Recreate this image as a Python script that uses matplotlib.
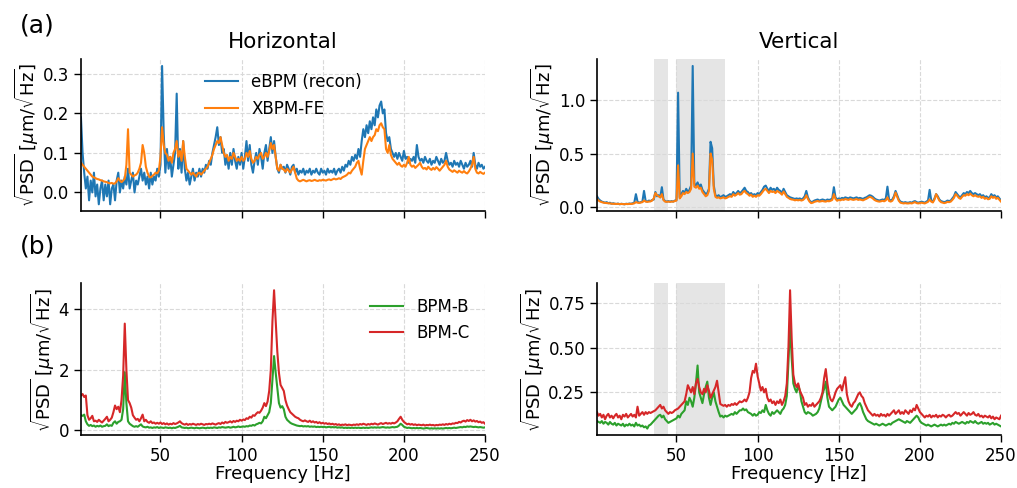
import numpy as np
import matplotlib
matplotlib.use("Agg")
import matplotlib.pyplot as plt

# frequency bins [Hz]
freq = np.arange(1, 251)

# (a) Horizontal: eBPM (recon) and XBPM-FE
h_ebpm = [
    0.19, 0.10, 0.05, 0.01, 0.04, -0.02, 0.03, 0.00, 0.05, -0.01,
    0.02, -0.03, 0.01, 0.03, -0.02, 0.02, -0.01, 0.03, -0.03, 0.01,
    0.02, -0.02, 0.03, 0.05, 0.00, 0.03, 0.01, 0.04, 0.02, 0.06,
    0.01, 0.03, 0.05, 0.00, 0.03, 0.02, 0.04, 0.06, 0.03, 0.05,
    0.02, 0.04, 0.01, 0.05, 0.02, 0.04, 0.03, 0.06, 0.04, 0.07,
    0.32, 0.15, 0.05, 0.11, 0.06, 0.09, 0.04, 0.07, 0.10, 0.25,
    0.06, 0.11, 0.05, 0.13, 0.06, 0.03, 0.05, 0.02, 0.04, 0.06,
    0.03, 0.05, 0.04, 0.06, 0.04, 0.06, 0.05, 0.07, 0.06, 0.08,
    0.07, 0.10, 0.12, 0.14, 0.165, 0.12, 0.14, 0.10, 0.11, 0.07,
    0.09, 0.06, 0.10, 0.07, 0.11, 0.08, 0.06, 0.09, 0.07, 0.10,
    0.06, 0.09, 0.13, 0.08, 0.12, 0.07, 0.05, 0.08, 0.10, 0.07,
    0.11, 0.09, 0.06, 0.10, 0.12, 0.08, 0.11, 0.14, 0.10, 0.13,
    0.09, 0.06, 0.05, 0.07, 0.06, 0.065, 0.05, 0.07, 0.06, 0.045,
    0.065, 0.07, 0.05, 0.06, 0.045, 0.055, 0.05, 0.06, 0.045, 0.055,
    0.05, 0.06, 0.045, 0.055, 0.05, 0.06, 0.05, 0.045, 0.06, 0.05,
    0.055, 0.045, 0.06, 0.05, 0.055, 0.05, 0.06, 0.045, 0.055, 0.06,
    0.05, 0.065, 0.055, 0.07, 0.065, 0.08, 0.07, 0.09, 0.08, 0.095,
    0.085, 0.11, 0.09, 0.13, 0.16, 0.14, 0.17, 0.15, 0.18, 0.16,
    0.19, 0.17, 0.21, 0.19, 0.22, 0.23, 0.20, 0.21, 0.15, 0.13,
    0.14, 0.11, 0.10, 0.09, 0.10, 0.085, 0.10, 0.09, 0.08, 0.105,
    0.085, 0.09, 0.075, 0.085, 0.08, 0.09, 0.075, 0.12, 0.09, 0.08,
    0.085, 0.075, 0.09, 0.08, 0.075, 0.085, 0.07, 0.08, 0.075, 0.09,
    0.08, 0.07, 0.085, 0.075, 0.08, 0.10, 0.08, 0.07, 0.075, 0.065,
    0.08, 0.07, 0.075, 0.065, 0.08, 0.07, 0.06, 0.075, 0.065, 0.07,
    0.08, 0.065, 0.10, 0.07, 0.06, 0.075, 0.065, 0.07, 0.06, 0.065,
]
h_xbpm = [
    0.075, 0.07, 0.065, 0.06, 0.055, 0.05, 0.045, 0.04, 0.038, 0.036,
    0.034, 0.033, 0.031, 0.03, 0.028, 0.027, 0.026, 0.024, 0.023, 0.024,
    0.022, 0.023, 0.028, 0.036, 0.03, 0.026, 0.03, 0.035, 0.07, 0.16,
    0.05, 0.045, 0.04, 0.043, 0.045, 0.05, 0.06, 0.075, 0.12, 0.10,
    0.065, 0.05, 0.04, 0.038, 0.042, 0.045, 0.05, 0.048, 0.055, 0.09,
    0.165, 0.12, 0.10, 0.095, 0.08, 0.09, 0.075, 0.10, 0.11, 0.13,
    0.09, 0.105, 0.08, 0.13, 0.09, 0.06, 0.055, 0.05, 0.045, 0.05,
    0.045, 0.04, 0.048, 0.05, 0.045, 0.05, 0.055, 0.06, 0.065, 0.075,
    0.085, 0.095, 0.11, 0.12, 0.13, 0.125, 0.14, 0.12, 0.10, 0.09,
    0.095, 0.08, 0.09, 0.085, 0.10, 0.09, 0.08, 0.085, 0.08, 0.09,
    0.08, 0.085, 0.10, 0.09, 0.105, 0.085, 0.075, 0.08, 0.09, 0.085,
    0.095, 0.10, 0.085, 0.09, 0.10, 0.09, 0.105, 0.125, 0.11, 0.12,
    0.09, 0.06, 0.055, 0.07, 0.06, 0.058, 0.052, 0.06, 0.055, 0.05,
    0.058, 0.065, 0.05, 0.035, 0.03, 0.028, 0.03, 0.032, 0.03, 0.028,
    0.03, 0.031, 0.029, 0.03, 0.032, 0.03, 0.029, 0.031, 0.03, 0.032,
    0.031, 0.03, 0.032, 0.033, 0.031, 0.033, 0.035, 0.033, 0.034, 0.036,
    0.034, 0.038, 0.04, 0.042, 0.045, 0.05, 0.048, 0.055, 0.06, 0.065,
    0.075, 0.08, 0.06, 0.045, 0.08, 0.11, 0.12, 0.13, 0.14, 0.13,
    0.14, 0.145, 0.16, 0.155, 0.17, 0.175, 0.165, 0.16, 0.11, 0.10,
    0.12, 0.095, 0.085, 0.08, 0.075, 0.07, 0.075, 0.068, 0.065, 0.07,
    0.065, 0.075, 0.09, 0.07, 0.065, 0.068, 0.062, 0.066, 0.07, 0.075,
    0.065, 0.06, 0.062, 0.058, 0.065, 0.06, 0.057, 0.062, 0.058, 0.064,
    0.06, 0.055, 0.06, 0.065, 0.07, 0.08, 0.065, 0.058, 0.055, 0.052,
    0.056, 0.053, 0.05, 0.055, 0.052, 0.05, 0.054, 0.05, 0.048, 0.053,
    0.06, 0.07, 0.09, 0.06, 0.05, 0.048, 0.052, 0.049, 0.047, 0.05,
]

# (a) Vertical: eBPM (recon) and XBPM-FE
v_ebpm = [
    0.10, 0.075, 0.06, 0.05, 0.045, 0.04, 0.045, 0.035, 0.04, 0.03,
    0.035, 0.03, 0.028, 0.032, 0.025, 0.03, 0.028, 0.025, 0.03, 0.028,
    0.032, 0.03, 0.035, 0.04, 0.12, 0.05, 0.04, 0.045, 0.05, 0.15,
    0.055, 0.05, 0.06, 0.055, 0.065, 0.07, 0.14, 0.10, 0.11, 0.09,
    0.185, 0.07, 0.055, 0.05, 0.055, 0.05, 0.055, 0.05, 0.06, 0.065,
    1.07, 0.09, 0.12, 0.15, 0.13, 0.17, 0.14, 0.16, 0.20, 1.32,
    0.22, 0.20, 0.23, 0.19, 0.21, 0.16, 0.14, 0.12, 0.13, 0.17,
    0.61, 0.55, 0.20, 0.11, 0.10, 0.11, 0.09, 0.10, 0.11, 0.095,
    0.10, 0.11, 0.12, 0.11, 0.14, 0.12, 0.13, 0.15, 0.13, 0.14,
    0.16, 0.18, 0.15, 0.14, 0.12, 0.13, 0.11, 0.12, 0.11, 0.13,
    0.12, 0.14, 0.16, 0.19, 0.20, 0.17, 0.15, 0.18, 0.16, 0.17,
    0.15, 0.18, 0.16, 0.15, 0.13, 0.17, 0.14, 0.11, 0.10, 0.09,
    0.085, 0.08, 0.075, 0.08, 0.075, 0.08, 0.07, 0.08, 0.10, 0.15,
    0.09, 0.06, 0.045, 0.05, 0.06, 0.065, 0.07, 0.06, 0.065, 0.07,
    0.065, 0.06, 0.07, 0.065, 0.07, 0.08, 0.185, 0.09, 0.07, 0.08,
    0.075, 0.085, 0.08, 0.09, 0.085, 0.08, 0.09, 0.085, 0.08, 0.085,
    0.09, 0.08, 0.085, 0.08, 0.075, 0.085, 0.09, 0.10, 0.11, 0.105,
    0.095, 0.08, 0.07, 0.065, 0.06, 0.065, 0.07, 0.065, 0.08, 0.19,
    0.07, 0.06, 0.07, 0.10, 0.15, 0.11, 0.07, 0.05, 0.045, 0.04,
    0.045, 0.04, 0.04, 0.045, 0.04, 0.05, 0.055, 0.045, 0.04, 0.045,
    0.05, 0.045, 0.04, 0.05, 0.06, 0.16, 0.06, 0.05, 0.08, 0.12,
    0.10, 0.07, 0.055, 0.05, 0.045, 0.05, 0.06, 0.055, 0.06, 0.08,
    0.10, 0.14, 0.12, 0.10, 0.09, 0.11, 0.13, 0.12, 0.14, 0.13,
    0.15, 0.13, 0.12, 0.13, 0.12, 0.11, 0.12, 0.10, 0.11, 0.09,
    0.10, 0.085, 0.09, 0.12, 0.10, 0.11, 0.09, 0.10, 0.08, 0.06,
]
v_xbpm = [
    0.075, 0.060, 0.050, 0.045, 0.040, 0.038, 0.036, 0.033, 0.032, 0.030,
    0.029, 0.030, 0.028, 0.029, 0.027, 0.028, 0.027, 0.026, 0.028, 0.027,
    0.029, 0.028, 0.030, 0.034, 0.045, 0.040, 0.038, 0.042, 0.045, 0.060,
    0.050, 0.048, 0.050, 0.052, 0.060, 0.080, 0.130, 0.110, 0.100, 0.090,
    0.120, 0.065, 0.050, 0.048, 0.050, 0.048, 0.050, 0.050, 0.055, 0.060,
    0.390, 0.080, 0.100, 0.130, 0.120, 0.140, 0.130, 0.140, 0.170, 0.500,
    0.190, 0.180, 0.200, 0.170, 0.180, 0.140, 0.120, 0.100, 0.110, 0.150,
    0.500, 0.440, 0.170, 0.095, 0.085, 0.090, 0.080, 0.085, 0.090, 0.080,
    0.085, 0.095, 0.100, 0.095, 0.120, 0.105, 0.115, 0.130, 0.115, 0.120,
    0.140, 0.150, 0.130, 0.120, 0.105, 0.115, 0.095, 0.105, 0.095, 0.110,
    0.105, 0.120, 0.140, 0.160, 0.170, 0.150, 0.130, 0.150, 0.140, 0.145,
    0.130, 0.150, 0.140, 0.130, 0.115, 0.145, 0.120, 0.095, 0.085, 0.075,
    0.070, 0.068, 0.062, 0.066, 0.062, 0.066, 0.060, 0.066, 0.080, 0.110,
    0.075, 0.050, 0.036, 0.040, 0.048, 0.052, 0.056, 0.050, 0.053, 0.056,
    0.052, 0.050, 0.056, 0.053, 0.058, 0.066, 0.120, 0.075, 0.058, 0.066,
    0.062, 0.070, 0.066, 0.074, 0.070, 0.066, 0.074, 0.070, 0.066, 0.070,
    0.074, 0.066, 0.070, 0.066, 0.062, 0.070, 0.076, 0.085, 0.095, 0.090,
    0.080, 0.066, 0.058, 0.053, 0.050, 0.053, 0.058, 0.053, 0.062, 0.090,
    0.056, 0.050, 0.058, 0.085, 0.135, 0.095, 0.058, 0.040, 0.036, 0.033,
    0.036, 0.033, 0.033, 0.036, 0.033, 0.040, 0.045, 0.036, 0.033, 0.036,
    0.040, 0.036, 0.033, 0.040, 0.048, 0.070, 0.050, 0.042, 0.070, 0.120,
    0.090, 0.060, 0.045, 0.040, 0.036, 0.040, 0.048, 0.045, 0.050, 0.066,
    0.085, 0.120, 0.105, 0.085, 0.076, 0.095, 0.110, 0.105, 0.120, 0.110,
    0.125, 0.110, 0.100, 0.110, 0.100, 0.095, 0.100, 0.085, 0.095, 0.076,
    0.085, 0.072, 0.076, 0.100, 0.085, 0.095, 0.076, 0.085, 0.068, 0.050,
]

# (b) Horizontal: BPM-B and BPM-C
h_bpmb = [
    0.50, 0.48, 0.52, 0.30, 0.20, 0.15, 0.18, 0.14, 0.16, 0.12,
    0.15, 0.13, 0.16, 0.12, 0.14, 0.15, 0.20, 0.14, 0.17, 0.15,
    0.25, 0.30, 0.22, 0.28, 0.30, 0.35, 0.70, 1.92, 0.90, 0.30,
    0.22, 0.18, 0.14, 0.12, 0.14, 0.12, 0.16, 0.20, 0.13, 0.11,
    0.10, 0.12, 0.09, 0.10, 0.08, 0.10, 0.09, 0.11, 0.08, 0.10,
    0.09, 0.08, 0.10, 0.09, 0.08, 0.09, 0.07, 0.09, 0.08, 0.10,
    0.12, 0.15, 0.10, 0.09, 0.08, 0.09, 0.07, 0.08, 0.09, 0.08,
    0.07, 0.09, 0.08, 0.07, 0.08, 0.09, 0.08, 0.07, 0.09, 0.08,
    0.09, 0.08, 0.10, 0.09, 0.08, 0.10, 0.09, 0.11, 0.10, 0.09,
    0.10, 0.11, 0.09, 0.10, 0.12, 0.10, 0.11, 0.13, 0.11, 0.12,
    0.13, 0.12, 0.14, 0.13, 0.16, 0.15, 0.18, 0.16, 0.20, 0.22,
    0.25, 0.23, 0.30, 0.45, 0.40, 0.50, 0.60, 0.90, 1.70, 2.45,
    1.90, 1.40, 0.90, 0.75, 0.80, 0.70, 0.45, 0.35, 0.30, 0.25,
    0.22, 0.20, 0.18, 0.16, 0.15, 0.14, 0.15, 0.13, 0.14, 0.13,
    0.14, 0.12, 0.13, 0.12, 0.13, 0.11, 0.12, 0.11, 0.12, 0.11,
    0.12, 0.10, 0.11, 0.12, 0.10, 0.11, 0.10, 0.11, 0.09, 0.10,
    0.09, 0.10, 0.08, 0.09, 0.08, 0.09, 0.08, 0.09, 0.08, 0.09,
    0.08, 0.09, 0.08, 0.08, 0.09, 0.08, 0.09, 0.08, 0.09, 0.10,
    0.09, 0.10, 0.09, 0.10, 0.09, 0.10, 0.11, 0.10, 0.09, 0.10,
    0.09, 0.10, 0.11, 0.10, 0.11, 0.12, 0.16, 0.22, 0.18, 0.12,
    0.10, 0.08, 0.09, 0.08, 0.07, 0.08, 0.07, 0.08, 0.07, 0.08,
    0.07, 0.06, 0.07, 0.08, 0.07, 0.06, 0.07, 0.06, 0.07, 0.06,
    0.07, 0.06, 0.07, 0.06, 0.07, 0.08, 0.07, 0.08, 0.07, 0.08,
    0.09, 0.08, 0.09, 0.10, 0.11, 0.10, 0.12, 0.11, 0.13, 0.12,
    0.13, 0.12, 0.11, 0.12, 0.11, 0.10, 0.11, 0.10, 0.09, 0.10,
]
h_bpmc = [
    1.15, 1.20, 1.10, 1.15, 0.50, 0.35, 0.40, 0.48, 0.30, 0.32,
    0.28, 0.35, 0.30, 0.26, 0.32, 0.38, 0.45, 0.30, 0.35, 0.42,
    0.60, 0.82, 0.70, 0.78, 0.60, 1.00, 1.80, 3.52, 2.00, 1.00,
    0.90, 0.75, 0.50, 0.42, 0.35, 0.38, 0.30, 0.40, 0.52, 0.30,
    0.35, 0.28, 0.25, 0.30, 0.24, 0.26, 0.22, 0.25, 0.22, 0.26,
    0.21, 0.24, 0.20, 0.23, 0.19, 0.22, 0.20, 0.24, 0.21, 0.23,
    0.26, 0.30, 0.24, 0.21, 0.19, 0.22, 0.18, 0.21, 0.19, 0.22,
    0.20, 0.18, 0.21, 0.19, 0.22, 0.20, 0.18, 0.21, 0.20, 0.22,
    0.20, 0.23, 0.21, 0.19, 0.22, 0.24, 0.21, 0.26, 0.23, 0.28,
    0.25, 0.27, 0.30, 0.26, 0.31, 0.28, 0.32, 0.30, 0.35, 0.32,
    0.36, 0.34, 0.40, 0.38, 0.45, 0.42, 0.50, 0.48, 0.55, 0.60,
    0.58, 0.65, 0.75, 0.90, 0.80, 0.95, 1.30, 2.00, 3.60, 4.62,
    3.60, 2.60, 1.90, 1.50, 1.40, 1.30, 1.00, 0.82, 0.70, 0.60,
    0.55, 0.50, 0.45, 0.42, 0.40, 0.35, 0.32, 0.30, 0.33, 0.30,
    0.28, 0.32, 0.27, 0.30, 0.26, 0.28, 0.24, 0.27, 0.23, 0.25,
    0.22, 0.24, 0.21, 0.23, 0.20, 0.22, 0.19, 0.21, 0.18, 0.20,
    0.17, 0.19, 0.18, 0.20, 0.17, 0.19, 0.18, 0.17, 0.19, 0.18,
    0.20, 0.18, 0.21, 0.19, 0.22, 0.20, 0.18, 0.21, 0.19, 0.22,
    0.20, 0.23, 0.21, 0.19, 0.22, 0.24, 0.21, 0.23, 0.25, 0.22,
    0.24, 0.22, 0.25, 0.23, 0.26, 0.30, 0.38, 0.45, 0.35, 0.28,
    0.24, 0.20, 0.22, 0.19, 0.21, 0.18, 0.20, 0.17, 0.19, 0.18,
    0.17, 0.19, 0.16, 0.18, 0.17, 0.19, 0.17, 0.18, 0.16, 0.18,
    0.17, 0.19, 0.18, 0.20, 0.18, 0.21, 0.19, 0.22, 0.20, 0.23,
    0.22, 0.25, 0.24, 0.28, 0.26, 0.30, 0.32, 0.29, 0.34, 0.31,
    0.35, 0.30, 0.33, 0.29, 0.31, 0.27, 0.29, 0.25, 0.27, 0.22,
]

# (b) Vertical: BPM-B and BPM-C
v_bpmb = [
    0.09, 0.085, 0.08, 0.09, 0.075, 0.085, 0.08, 0.07, 0.085, 0.075,
    0.07, 0.08, 0.065, 0.075, 0.07, 0.065, 0.075, 0.06, 0.07, 0.065,
    0.075, 0.065, 0.07, 0.06, 0.08, 0.065, 0.07, 0.06, 0.065, 0.055,
    0.06, 0.048, 0.065, 0.07, 0.08, 0.09, 0.10, 0.11, 0.12, 0.125,
    0.11, 0.12, 0.10, 0.09, 0.08, 0.085, 0.09, 0.095, 0.10, 0.105,
    0.12, 0.11, 0.13, 0.14, 0.15, 0.20, 0.18, 0.22, 0.20, 0.17,
    0.22, 0.30, 0.40, 0.25, 0.22, 0.19, 0.24, 0.28, 0.31, 0.22,
    0.18, 0.22, 0.25, 0.20, 0.17, 0.14, 0.115, 0.12, 0.11, 0.12,
    0.115, 0.12, 0.125, 0.13, 0.125, 0.14, 0.13, 0.14, 0.15, 0.15,
    0.16, 0.15, 0.155, 0.14, 0.135, 0.13, 0.12, 0.13, 0.12, 0.125,
    0.14, 0.135, 0.15, 0.14, 0.18, 0.15, 0.13, 0.12, 0.14, 0.13,
    0.14, 0.15, 0.14, 0.13, 0.15, 0.16, 0.18, 0.23, 0.42, 0.63,
    0.44, 0.30, 0.27, 0.25, 0.29, 0.26, 0.20, 0.17, 0.14, 0.13,
    0.14, 0.135, 0.13, 0.12, 0.125, 0.13, 0.14, 0.16, 0.20, 0.24,
    0.27, 0.31, 0.22, 0.17, 0.16, 0.15, 0.16, 0.17, 0.19, 0.21,
    0.22, 0.20, 0.18, 0.17, 0.16, 0.15, 0.14, 0.13, 0.14, 0.15,
    0.16, 0.18, 0.19, 0.17, 0.14, 0.12, 0.10, 0.09, 0.085, 0.08,
    0.075, 0.07, 0.075, 0.07, 0.065, 0.07, 0.075, 0.07, 0.065, 0.07,
    0.075, 0.07, 0.08, 0.085, 0.09, 0.095, 0.10, 0.095, 0.09, 0.085,
    0.08, 0.09, 0.085, 0.08, 0.09, 0.10, 0.11, 0.12, 0.11, 0.09,
    0.08, 0.075, 0.07, 0.065, 0.07, 0.065, 0.06, 0.065, 0.07, 0.065,
    0.06, 0.065, 0.07, 0.065, 0.07, 0.065, 0.07, 0.075, 0.07, 0.08,
    0.075, 0.085, 0.08, 0.075, 0.08, 0.085, 0.08, 0.075, 0.085, 0.08,
    0.09, 0.085, 0.08, 0.09, 0.08, 0.075, 0.08, 0.085, 0.075, 0.08,
    0.075, 0.08, 0.07, 0.075, 0.08, 0.07, 0.075, 0.07, 0.065, 0.06,
]
v_bpmc = [
    0.14, 0.12, 0.13, 0.11, 0.125, 0.10, 0.12, 0.13, 0.11, 0.12,
    0.105, 0.12, 0.13, 0.11, 0.12, 0.10, 0.125, 0.115, 0.13, 0.11,
    0.12, 0.13, 0.115, 0.125, 0.11, 0.17, 0.12, 0.13, 0.14, 0.125,
    0.14, 0.13, 0.14, 0.135, 0.14, 0.145, 0.15, 0.16, 0.17, 0.18,
    0.16, 0.17, 0.15, 0.14, 0.13, 0.14, 0.135, 0.14, 0.15, 0.155,
    0.16, 0.17, 0.18, 0.19, 0.20, 0.24, 0.29, 0.27, 0.25, 0.28,
    0.24, 0.30, 0.325, 0.28, 0.25, 0.24, 0.27, 0.25, 0.29, 0.26,
    0.22, 0.24, 0.26, 0.28, 0.315, 0.25, 0.185, 0.18, 0.175, 0.18,
    0.17, 0.18, 0.175, 0.185, 0.18, 0.19, 0.18, 0.19, 0.20, 0.195,
    0.20, 0.21, 0.20, 0.22, 0.25, 0.33, 0.37, 0.36, 0.41, 0.34,
    0.30, 0.26, 0.28, 0.25, 0.27, 0.22, 0.20, 0.21, 0.19, 0.20,
    0.18, 0.20, 0.19, 0.21, 0.18, 0.20, 0.23, 0.30, 0.50, 0.82,
    0.55, 0.35, 0.30, 0.28, 0.30, 0.26, 0.24, 0.22, 0.18, 0.19,
    0.17, 0.18, 0.175, 0.19, 0.17, 0.18, 0.19, 0.20, 0.22, 0.25,
    0.33, 0.38, 0.30, 0.24, 0.21, 0.20, 0.22, 0.25, 0.27, 0.28,
    0.29, 0.26, 0.30, 0.335, 0.24, 0.20, 0.18, 0.17, 0.19, 0.20,
    0.22, 0.24, 0.25, 0.23, 0.22, 0.19, 0.17, 0.15, 0.14, 0.13,
    0.12, 0.13, 0.12, 0.125, 0.115, 0.13, 0.12, 0.125, 0.115, 0.13,
    0.12, 0.13, 0.14, 0.15, 0.13, 0.14, 0.15, 0.13, 0.14, 0.13,
    0.15, 0.14, 0.13, 0.15, 0.14, 0.16, 0.15, 0.18, 0.16, 0.14,
    0.13, 0.12, 0.11, 0.12, 0.115, 0.125, 0.11, 0.12, 0.115, 0.125,
    0.11, 0.12, 0.115, 0.125, 0.12, 0.11, 0.12, 0.125, 0.115, 0.12,
    0.13, 0.14, 0.13, 0.135, 0.12, 0.13, 0.14, 0.13, 0.12, 0.135,
    0.125, 0.13, 0.14, 0.125, 0.12, 0.13, 0.115, 0.12, 0.11, 0.12,
    0.115, 0.11, 0.12, 0.105, 0.115, 0.10, 0.11, 0.105, 0.10, 0.12,
]

# shaded bands in the vertical plane [Hz]
bands = [(36, 45), (50, 80)]

ylab = r'$\sqrt{\mathrm{PSD}}$ [$\mu$m/$\sqrt{\mathrm{Hz}}$]'

fig, axs = plt.subplots(2, 2, figsize=(10.17, 4.88), dpi=100, sharex=True)
fig.subplots_adjust(left=0.0796, right=0.9843, top=0.879, bottom=0.1076,
                    wspace=0.277, hspace=0.474)

axs[0, 0].plot(freq, h_ebpm, color='tab:blue', lw=1.5, label='eBPM (recon)')
axs[0, 0].plot(freq, h_xbpm, color='tab:orange', lw=1.5, label='XBPM-FE')
axs[0, 1].plot(freq, v_ebpm, color='tab:blue', lw=1.5)
axs[0, 1].plot(freq, v_xbpm, color='tab:orange', lw=1.5)
axs[1, 0].plot(freq, h_bpmb, color='tab:green', lw=1.5, label='BPM-B')
axs[1, 0].plot(freq, h_bpmc, color='tab:red', lw=1.5, label='BPM-C')
axs[1, 1].plot(freq, v_bpmb, color='tab:green', lw=1.5)
axs[1, 1].plot(freq, v_bpmc, color='tab:red', lw=1.5)

for ax in axs[:, 1]:
    for lo, hi in bands:
        ax.axvspan(lo, hi, color='gray', alpha=0.2, lw=0, zorder=0)

for ax in axs.flat:
    ax.set_xlim(1, 250)
    ax.set_xticks([50, 100, 150, 200, 250])
    ax.grid(True, ls='--', color='0.85', lw=0.8)
    ax.set_axisbelow(True)
    ax.spines['top'].set_visible(False)
    ax.spines['right'].set_visible(False)
    ax.spines['left'].set_linewidth(1.2)
    ax.spines['bottom'].set_linewidth(1.2)
    ax.tick_params(labelsize=12, length=5, width=1)
    ax.set_ylabel(ylab, fontsize=13, labelpad=1)

axs[0, 0].set_yticks([0.0, 0.1, 0.2, 0.3])
axs[0, 1].set_yticks([0.0, 0.5, 1.0])
axs[1, 0].set_yticks([0, 2, 4])
axs[1, 1].set_yticks([0.25, 0.50, 0.75])

axs[0, 0].set_title('Horizontal', fontsize=15.5, pad=8)
axs[0, 1].set_title('Vertical', fontsize=15.5, pad=8)
axs[1, 0].set_xlabel('Frequency [Hz]', fontsize=13, labelpad=0)
axs[1, 1].set_xlabel('Frequency [Hz]', fontsize=13, labelpad=0)

axs[0, 0].legend(loc='upper left', bbox_to_anchor=(0.29, 0.95), frameon=False,
                 fontsize=12, borderaxespad=0)
axs[1, 0].legend(loc='upper left', bbox_to_anchor=(0.698, 0.95), frameon=False,
                 fontsize=12, borderaxespad=0)

fig.text(0.02, 0.947, '(a)', fontsize=18, va='center')
fig.text(0.02, 0.495, '(b)', fontsize=18, va='center')

fig.savefig('out.png', dpi=100)
